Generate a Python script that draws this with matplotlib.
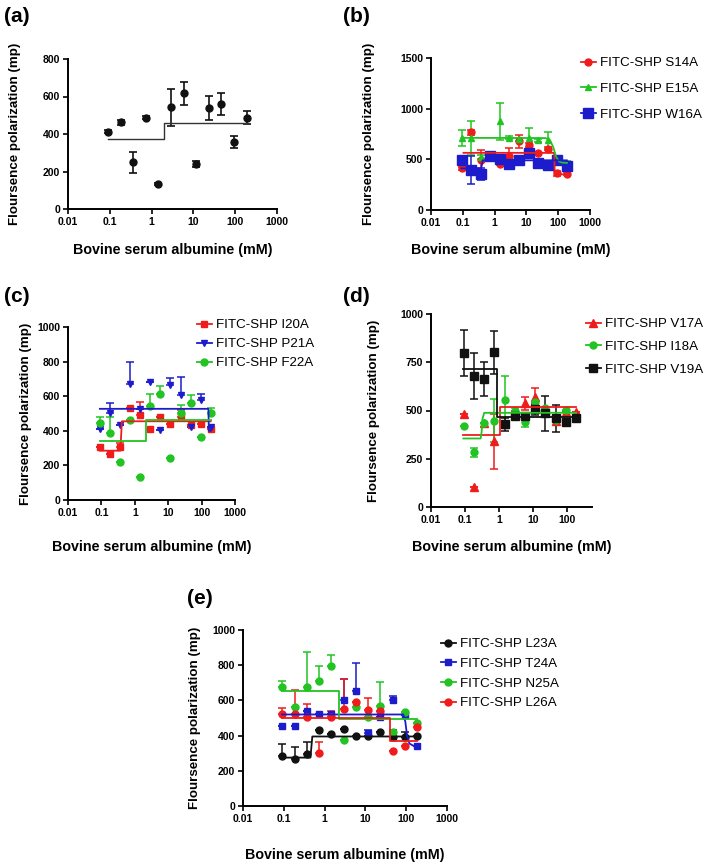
import matplotlib
matplotlib.use('Agg')
import matplotlib.pyplot as plt
from matplotlib.lines import Line2D
import numpy as np

plt.rcParams['font.family'] = ['Liberation Sans', 'DejaVu Sans']

RED = '#f01c1c'
GREEN = '#22c322'
BLUE = '#1c1ccc'
BLACK = '#111111'

# BSA concentrations (mM), two-fold dilution series
conc = [0.0916, 0.183, 0.366, 0.732, 1.46, 2.93, 5.86, 11.7, 23.4, 46.9, 93.8, 187.5]

# (a) wild type
a_y = [411, 462, 249, 487, 133, 542, 617, 240, 539, 560, 357, 487]
a_err = [8, 15, 56, 8, 6, 98, 62, 15, 62, 60, 33, 35]
a_fit_x = [0.09, 2.0, 2.0, 187.5]
a_fit_y = [372, 372, 457, 457]

# (b)
b_labels = ['FITC-SHP S14A', 'FITC-SHP E15A', 'FITC-SHP W16A']
b_s14a = [412, 765, 495, 520, 455, 528, 676, 643, 560, 603, 363, 356]
b_s14a_err = [15, 20, 100, 10, 10, 85, 66, 20, 15, 15, 25, 15]
b_e15a = [709, 709, 520, 528, 874, 715, 700, 710, 690, 686, 500, 468]
b_e15a_err = [80, 170, 20, 20, 180, 15, 15, 100, 15, 80, 20, 15]
b_w16a = [495, 396, 356, 528, 501, 455, 495, 560, 468, 445, 495, 430]
b_w16a_err = [40, 140, 60, 40, 25, 20, 15, 40, 20, 20, 15, 20]
b_fit_x = [[0.105, 75, 78, 187.5],
           [0.09, 40, 55, 70, 85, 105, 130, 187.5],
           [0.09, 0.38, 0.42, 187.5]]
b_fit_y = [[564, 564, 352, 352],
           [712, 710, 690, 620, 530, 480, 468, 465],
           [410, 410, 490, 490]]

# (c)
c_labels = ['FITC-SHP I20A', 'FITC-SHP P21A', 'FITC-SHP F22A']
c_i20a = [304, 265, 304, 529, 494, 413, 481, 438, 477, 433, 438, 413]
c_i20a_err = [0, 0, 25, 0, 73, 0, 0, 0, 42, 0, 0, 0]
c_p21a = [413, 500, 433, 673, 525, 683, 404, 663, 606, 423, 577, 423]
c_p21a_err = [0, 63, 0, 125, 0, 0, 0, 43, 105, 0, 38, 0]
c_f22a = [446, 385, 217, 460, 135, 542, 615, 240, 500, 558, 362, 500]
c_f22a_err = [35, 96, 0, 0, 0, 73, 43, 0, 48, 48, 0, 30]
c_fit_x = [[0.09, 0.37, 0.41, 187.5],
           [0.09, 160, 165, 187.5],
           [0.09, 2.2, 2.2, 187.5]]
c_fit_y = [[285, 285, 455, 455],
           [527, 527, 400, 400],
           [340, 340, 465, 465]]

# (d)
d_labels = ['FITC-SHP V17A', 'FITC-SHP I18A', 'FITC-SHP V19A']
d_v17a = [482, 104, 437, 341, 430, 500, 537, 572, 510, 447, 490, 494]
d_v17a_err = [0, 0, 0, 142, 0, 0, 35, 43, 0, 0, 0, 0]
d_i18a = [421, 283, 437, 447, 555, 499, 442, 546, 511, 451, 503, 463]
d_i18a_err = [0, 25, 0, 110, 125, 15, 30, 0, 0, 0, 0, 0]
d_v19a = [797, 679, 662, 801, 428, 470, 470, 506, 485, 459, 442, 459]
d_v19a_err = [120, 120, 87, 110, 35, 0, 0, 30, 90, 70, 0, 0]
d_fit_x = [[0.09, 1.05, 1.05, 187.5],
           [0.09, 0.29, 0.31, 0.33, 0.37, 187.5],
           [0.09, 0.9, 0.9, 187.5]]
d_fit_y = [[375, 375, 520, 520],
           [355, 355, 390, 460, 488, 488],
           [715, 715, 465, 465]]

# (e)
e_labels = ['FITC-SHP L23A', 'FITC-SHP T24A', 'FITC-SHP N25A', 'FITC-SHP L26A']
e_l23a = [284, 266, 298, 430, 410, 437, 395, 400, 420, 390, 390, 400]
e_l23a_err = [70, 69, 65, 0, 0, 0, 0, 0, 0, 40, 28, 0]
e_t24a = [452, 452, 539, 520, 520, 603, 652, 414, 508, 603, 518, 339]
e_t24a_err = [0, 0, 0, 0, 0, 117, 158, 20, 0, 20, 0, 0]
e_n25a = [674, 561, 678, 713, 794, 373, 560, 505, 571, 420, 533, 471]
e_n25a_err = [38, 0, 198, 85, 63, 0, 0, 0, 135, 0, 0, 0]
e_l26a = [520, 523, 508, 301, 508, 552, 590, 546, 542, 315, 339, 448]
e_l26a_err = [37, 138, 72, 62, 30, 168, 0, 66, 0, 0, 0, 0]
e_fit_x = [[0.09, 0.45, 0.5, 187.5],
           [0.09, 85, 95, 105, 120, 150, 187.5],
           [0.09, 2.2, 2.2, 187.5],
           [0.09, 40, 40, 187.5]]
e_fit_y = [[275, 275, 395, 395],
           [520, 520, 480, 400, 355, 342, 340],
           [655, 655, 497, 497],
           [500, 500, 372, 372]]

W, H = 709, 866
fig = plt.figure(figsize=(W / 100, H / 100), dpi=100)


def px_axes(x0, x1, ytop, ybot):
    return fig.add_axes([x0 / W, 1 - ybot / H, (x1 - x0) / W, (ybot - ytop) / H])


def style(ax, xlim, ylim, yticks, xticks, ylab_x, xlab_y):
    ax.set_xscale('log')
    ax.set_xlim(*xlim)
    ax.set_ylim(*ylim)
    ax.set_yticks(yticks)
    ax.set_yticklabels([str(t) for t in yticks])
    ax.set_xticks(xticks)
    ax.set_xticklabels([('%g' % t) for t in xticks])
    ax.minorticks_off()
    for s in ['top', 'right']:
        ax.spines[s].set_visible(False)
    for s in ['left', 'bottom']:
        ax.spines[s].set_linewidth(1.4)
    ax.tick_params(width=1.2, length=3.5, labelsize=7.5, pad=2)
    for lab in ax.get_xticklabels() + ax.get_yticklabels():
        lab.set_fontweight('bold')
        lab.set_family(['Liberation Sans Narrow', 'Liberation Sans'])
    ax.set_ylabel('Floursence polarization (mp)', fontsize=9.6, fontweight='bold')
    ax.set_xlabel('Bovine serum albumine (mM)', fontsize=10.3, fontweight='bold')
    bb = ax.get_position()
    ax.yaxis.set_label_coords(ylab_x / W, (bb.y0 + bb.y1) / 2, transform=fig.transFigure)
    ax.xaxis.set_label_coords((bb.x0 + bb.x1) / 2, 1 - xlab_y / H, transform=fig.transFigure)
    ax.xaxis.label.set_va('center')
    ax.yaxis.label.set_va('center')


def series(ax, y, err, color, marker, ms, lower=True):
    lo = err if lower else [0] * len(err)
    ax.errorbar(conc, y, yerr=[lo, err], fmt=marker, color=color, ms=ms,
                ecolor=color, elinewidth=1.1, capsize=3, capthick=1.1, zorder=3)


def legend(ax, labels, colors, markers, sizes, x, y, spacing):
    handles = [Line2D([], [], color=c, marker=m, ms=s, lw=1.3)
               for c, m, s in zip(colors, markers, sizes)]
    ax.legend(handles, labels, loc='upper left', bbox_to_anchor=(x / W, 1 - y / H),
              bbox_transform=fig.transFigure, frameon=False, fontsize=9.6,
              handlelength=1.1, handletextpad=0.35, labelspacing=spacing,
              borderpad=0, borderaxespad=0)


# (a)
ax = px_axes(68, 277, 59, 209)
ax.errorbar(conc, a_y, yerr=a_err, fmt='o', color=BLACK, ms=5, elinewidth=1.2,
            capsize=3.2, capthick=1.2)
ax.plot(a_fit_x, a_fit_y, color='#333333', lw=1.0)
style(ax, (0.01, 1000), (0, 800), [0, 200, 400, 600, 800],
      [0.01, 0.1, 1, 10, 100, 1000], 15, 250)

# (b)
ax = px_axes(431, 590, 58, 210)
series(ax, b_s14a, b_s14a_err, RED, 'o', 5)
series(ax, b_e15a, b_e15a_err, GREEN, '^', 5)
series(ax, b_w16a, b_w16a_err, BLUE, 's', 6.5)
for fx, fy, c in zip(b_fit_x, b_fit_y, [RED, GREEN, BLUE]):
    ax.plot(fx, fy, color=c, lw=1.3, zorder=4)
style(ax, (0.01, 1000), (0, 1500), [0, 500, 1000, 1500],
      [0.01, 0.1, 1, 10, 100, 1000], 369, 250)
legend(ax, b_labels, [RED, GREEN, BLUE], ['o', '^', 's'], [5, 5, 6.5], 581, 57, 1.0)

# (c)
ax = px_axes(68, 235, 327, 500)
series(ax, c_i20a, c_i20a_err, RED, 's', 5, lower=False)
series(ax, c_p21a, c_p21a_err, BLUE, 'v', 5, lower=False)
series(ax, c_f22a, c_f22a_err, GREEN, 'o', 5, lower=False)
for fx, fy, c in zip(c_fit_x, c_fit_y, [RED, BLUE, GREEN]):
    ax.plot(fx, fy, color=c, lw=1.3, zorder=4)
style(ax, (0.01, 1000), (0, 1000), [0, 200, 400, 600, 800, 1000],
      [0.01, 0.1, 1, 10, 100, 1000], 26, 547)
legend(ax, c_labels, [RED, BLUE, GREEN], ['s', 'v', 'o'], [5, 5, 5], 197, 319, 0.5)

# (d)
ax = px_axes(431, 592, 314, 507)
series(ax, d_v17a, d_v17a_err, RED, '^', 5.5)
series(ax, d_i18a, d_i18a_err, GREEN, 'o', 5)
series(ax, d_v19a, d_v19a_err, BLACK, 's', 6)
for fx, fy, c in zip(d_fit_x, d_fit_y, [RED, GREEN, BLACK]):
    ax.plot(fx, fy, color=c, lw=1.3, zorder=4)
style(ax, (0.01, 550), (0, 1000), [0, 250, 500, 750, 1000],
      [0.01, 0.1, 1, 10, 100], 374, 547)
legend(ax, d_labels, [RED, GREEN, BLACK], ['^', 'o', 's'], [5.5, 5, 6], 586, 318, 0.78)

# (e)
ax = px_axes(243, 447, 630, 806)
series(ax, e_l23a, e_l23a_err, BLACK, 'o', 5, lower=False)
series(ax, e_t24a, e_t24a_err, BLUE, 's', 5, lower=False)
series(ax, e_n25a, e_n25a_err, GREEN, 'o', 5, lower=False)
series(ax, e_l26a, e_l26a_err, RED, 'o', 5, lower=False)
for fx, fy, c in zip(e_fit_x, e_fit_y, [BLACK, BLUE, GREEN, RED]):
    ax.plot(fx, fy, color=c, lw=1.3, zorder=4)
style(ax, (0.01, 1000), (0, 1000), [0, 200, 400, 600, 800, 1000],
      [0.01, 0.1, 1, 10, 100, 1000], 195, 855)
legend(ax, e_labels, [BLACK, BLUE, GREEN, RED], ['o', 's', 'o', 'o'], [5, 5, 5, 5],
       441, 638, 0.55)

# panel letters
for lab, x, y in [('(a)', 4, 16), ('(b)', 343, 16), ('(c)', 4, 296),
                  ('(d)', 343, 296), ('(e)', 187, 598)]:
    fig.text(x / W, 1 - y / H, lab, fontsize=15, fontweight='bold', va='center', ha='left')

fig.savefig('out.png', dpi=100)
